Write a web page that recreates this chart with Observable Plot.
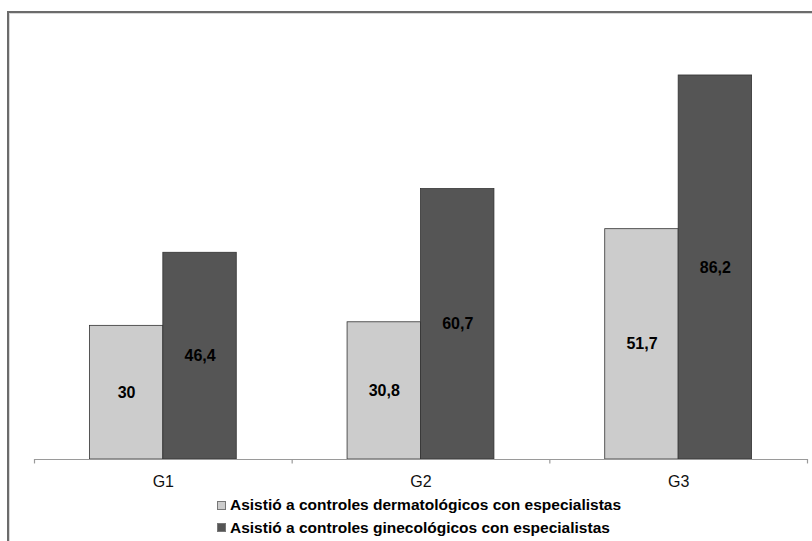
<!DOCTYPE html>
<html>
<head>
<meta charset="utf-8">
<script src="https://cdn.jsdelivr.net/npm/d3@7"></script>
<script src="https://cdn.jsdelivr.net/npm/@observablehq/plot@0.6"></script>
<style>
  html, body { margin: 0; padding: 0; background: #fff; }
  #wrap { position: relative; width: 812px; height: 541px; overflow: hidden; font-family: "Liberation Sans", Arial, sans-serif; }
  #border { position: absolute; left: 7px; top: 11px; right: -10px; bottom: -10px; border-top: 2px solid #6b6b6b; border-left: 2px solid #6b6b6b; box-shadow: inset 1px 1px 0 #d8d8d8; pointer-events: none; }
  #chart { position: absolute; left: 0; top: 0; }
  #legend { position: absolute; left: 217px; top: 494px; font-weight: bold; font-size: 15.5px; color: #000; }
  .row { display: flex; align-items: center; height: 22.5px; }
  .sw { width: 7px; height: 7px; border: 1px solid #777; margin-right: 4px; }
</style>
</head>
<body>
<div id="wrap">
  <div id="border"></div>
  <div id="chart"></div>
  <div id="legend"></div>
</div>
<script>
const groups = ["G1", "G2", "G3"];
const seriesNames = [
  "Asistió a controles dermatológicos con especialistas",
  "Asistió a controles ginecológicos con especialistas"
];
const dermatologicos = [30, 30.8, 51.7];
const ginecologicos = [46.4, 60.7, 86.2];
const seriesColors = ["#cccccc", "#555555"];

const seriesValues = [dermatologicos, ginecologicos];
const barW = 0.285; // fraction of group width per bar
const rows = [];
groups.forEach((g, i) => {
  seriesValues.forEach((vals, s) => {
    rows.push({group: g, i, s, value: vals[i], x1: i + (s - 1) * barW, x2: i + s * barW});
  });
});
const bounds = d3.range(groups.length + 1).map(k => k - 0.5);
const fmt = v => String(v).replace(".", ",");

const plot = Plot.plot({
  width: 812,
  height: 541,
  marginLeft: 34,
  marginRight: 5,
  marginTop: 13.5,
  marginBottom: 82,
  x: {type: "linear", domain: [-0.5, groups.length - 0.5], axis: null},
  y: {domain: [0, 100], axis: null},
  style: {fontFamily: "Liberation Sans, Arial, sans-serif", background: "transparent", overflow: "visible"},
  marks: [
    Plot.rectY(rows, {x1: "x1", x2: "x2", y: "value", fill: d => seriesColors[d.s], stroke: "#333", strokeWidth: 0.8}),
    Plot.text(rows, {x: d => (d.x1 + d.x2) / 2, y: d => d.value / 2, text: d => fmt(d.value), fill: "#000", fontWeight: "bold", fontSize: 16}),
    Plot.ruleY([0], {stroke: "#9a9a9a", strokeWidth: 1.2}),
    Plot.ruleX(bounds, {x: d => d, y1: 0, y2: -1, stroke: "#9a9a9a", strokeWidth: 1.2}),
    Plot.text(groups, {x: (d, i) => i, y: 0, dy: 22, text: d => d, fill: "#111", fontSize: 16})
  ]
});
document.getElementById("chart").appendChild(plot);

const legend = document.getElementById("legend");
seriesNames.forEach((name, s) => {
  const row = document.createElement("div");
  row.className = "row";
  const sw = document.createElement("span");
  sw.className = "sw";
  sw.style.background = seriesColors[s];
  const t = document.createElement("span");
  t.textContent = name;
  row.appendChild(sw);
  row.appendChild(t);
  legend.appendChild(row);
});
</script>
</body>
</html>
